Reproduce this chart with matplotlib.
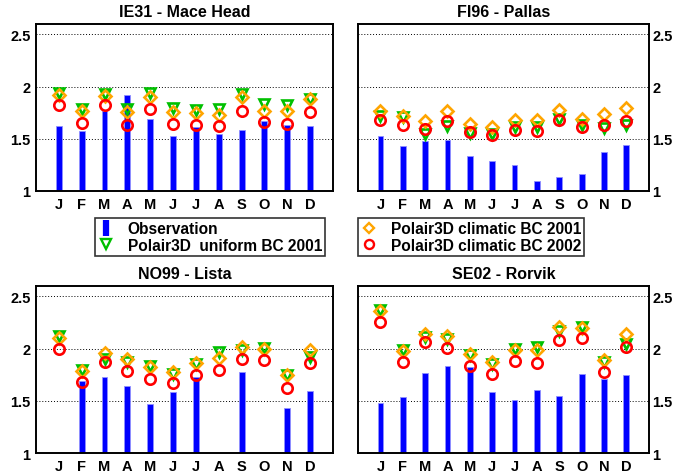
import numpy as np
import matplotlib
matplotlib.use("Agg")
import matplotlib.pyplot as plt
from matplotlib.lines import Line2D

plt.rcParams['font.family'] = ['Liberation Sans', 'DejaVu Sans']
plt.rcParams['font.weight'] = 'bold'

months = ['J', 'F', 'M', 'A', 'M', 'J', 'J', 'A', 'S', 'O', 'N', 'D']
stations = ['IE31 - Mace Head', 'FI96 - Pallas', 'NO99 - Lista', 'SE02 - Rorvik']

# observations (nan = no data)
obs_ie31 = [1.625, 1.577, 1.77, 1.92, 1.69, 1.53, 1.615, 1.545, 1.58, 1.67, 1.63, 1.62]
obs_fi96 = [1.53, 1.43, 1.48, 1.49, 1.335, 1.29, 1.25, 1.10, 1.13, 1.16, 1.375, 1.445]
obs_no99 = [np.nan, 1.69, 1.73, 1.645, 1.465, 1.58, 1.73, np.nan, 1.78, np.nan, 1.43, 1.59]
obs_se02 = [1.475, 1.535, 1.765, 1.835, 1.82, 1.585, 1.51, 1.60, 1.545, 1.755, 1.71, 1.745]

# Polair3D uniform BC 2001
uni_ie31 = [1.94, 1.79, 1.925, 1.79, 1.94, 1.80, 1.78, 1.79, 1.93, 1.83, 1.82, 1.885]
uni_fi96 = [1.72, 1.705, 1.55, 1.62, 1.56, 1.55, 1.61, 1.61, 1.69, 1.635, 1.60, 1.635]
uni_no99 = [2.12, 1.80, 1.90, 1.87, 1.83, 1.76, 1.85, 1.97, 1.99, 2.01, 1.75, 1.92]
uni_se02 = [2.37, 1.99, 2.11, 2.09, 1.94, 1.85, 2.00, 2.02, 2.17, 2.21, 1.87, 2.04]

# Polair3D climatic BC 2001
c01_ie31 = [1.92, 1.77, 1.915, 1.755, 1.905, 1.76, 1.75, 1.73, 1.90, 1.77, 1.765, 1.88]
c01_fi96 = [1.77, 1.72, 1.67, 1.77, 1.64, 1.61, 1.68, 1.68, 1.78, 1.69, 1.735, 1.795]
c01_no99 = [2.10, 1.785, 1.955, 1.90, 1.825, 1.78, 1.86, 1.915, 2.02, 2.00, 1.75, 1.99]
c01_se02 = [2.36, 1.98, 2.14, 2.12, 1.95, 1.875, 1.99, 1.99, 2.21, 2.195, 1.89, 2.14]

# Polair3D climatic BC 2002
c02_ie31 = [1.82, 1.655, 1.82, 1.63, 1.79, 1.64, 1.63, 1.62, 1.77, 1.665, 1.645, 1.755]
c02_fi96 = [1.68, 1.63, 1.595, 1.675, 1.565, 1.535, 1.58, 1.575, 1.68, 1.615, 1.63, 1.675]
c02_no99 = [2.00, 1.68, 1.875, 1.79, 1.71, 1.67, 1.745, 1.80, 1.90, 1.89, 1.625, 1.865]
c02_se02 = [2.255, 1.87, 2.06, 2.01, 1.83, 1.755, 1.88, 1.865, 2.085, 2.10, 1.775, 2.02]

obs_all = [obs_ie31, obs_fi96, obs_no99, obs_se02]
uni_all = [uni_ie31, uni_fi96, uni_no99, uni_se02]
c01_all = [c01_ie31, c01_fi96, c01_no99, c01_se02]
c02_all = [c02_ie31, c02_fi96, c02_no99, c02_se02]

fig = plt.figure(figsize=(6.75, 4.77), dpi=100)

# axes rectangles [left, bottom, width, height]
boxes = [[0.0533, 0.5975, 0.440, 0.350],
         [0.5305, 0.5975, 0.4305, 0.350],
         [0.0533, 0.0482, 0.440, 0.350],
         [0.5305, 0.0482, 0.4305, 0.350]]

x = np.arange(1, 13)
for i in range(4):
    ax = fig.add_axes(boxes[i])
    obs = np.array(obs_all[i], dtype=float)
    ax.bar(x, obs - 1, bottom=1, width=0.26, color='#0000ff',
           edgecolor='#9090ff', linewidth=0.6, zorder=2)
    ax.plot(x, uni_all[i], linestyle='none', marker='v', markersize=7.5,
            mfc='none', mec='#00c000', mew=1.9, zorder=3)
    ax.plot(x, c01_all[i], linestyle='none', marker='D', markersize=6,
            mfc='none', mec='#ffa500', mew=1.9, zorder=4)
    ax.plot(x, c02_all[i], linestyle='none', marker='o', markersize=7.5,
            mfc='none', mec='#ff0000', mew=1.9, zorder=5)

    ax.set_xlim(0, 13)
    ax.set_ylim(1, 2.6)
    ax.set_yticks([1, 1.5, 2, 2.5])
    ax.set_yticklabels(['1', '1.5', '2', '2.5'])
    ax.set_xticks(x)
    ax.set_xticklabels(months)
    ax.tick_params(length=0, labelsize=10.5, pad=4)
    if i % 2 == 1:
        ax.yaxis.tick_right()
        ax.tick_params(axis='y', pad=2.5)
    for lbl in ax.get_xticklabels() + ax.get_yticklabels():
        lbl.set_fontweight('bold')
    ax.yaxis.grid(True, color='black', linestyle=(0, (1, 2)), linewidth=0.7)
    ax.set_axisbelow(True)
    for sp in ax.spines.values():
        sp.set_linewidth(1.4)
    ax.set_title(stations[i], fontsize=11.5, fontweight='bold', pad=6)

h_obs = Line2D([], [], linestyle='none', marker='|', markersize=11, mew=4.5,
               color='#0000ff')
h_uni = Line2D([], [], linestyle='none', marker='v', markersize=6.5,
               mfc='none', mec='#00c000', mew=1.7)
h_c01 = Line2D([], [], linestyle='none', marker='D', markersize=5.5,
               mfc='none', mec='#ffa500', mew=1.7)
h_c02 = Line2D([], [], linestyle='none', marker='o', markersize=6.5,
               mfc='none', mec='#ff0000', mew=1.7)

leg_kw = dict(prop={'weight': 'bold', 'size': 11.2}, frameon=True,
              fancybox=False, edgecolor='black', handlelength=1.0,
              handletextpad=0.9, borderpad=0.2, labelspacing=0.1,
              borderaxespad=0, loc='upper left')
l1 = fig.legend([h_obs, h_uni], ['Observation', 'Polair3D  uniform BC 2001'],
                bbox_to_anchor=(0.141, 0.541), **leg_kw)
l2 = fig.legend([h_c01, h_c02], ['Polair3D climatic BC 2001', 'Polair3D climatic BC 2002'],
                bbox_to_anchor=(0.5305, 0.541), **leg_kw)
for l in (l1, l2):
    l.get_frame().set_linewidth(1.2)

fig.savefig('out.png', dpi=100)
